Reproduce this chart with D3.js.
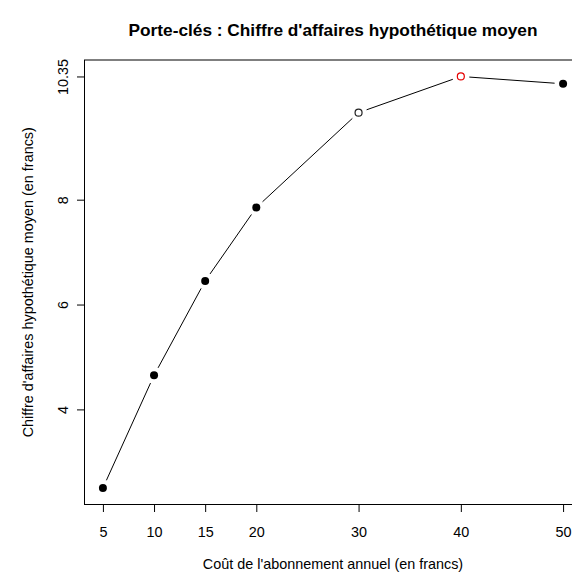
<!DOCTYPE html>
<html>
<head>
<meta charset="utf-8">
<script src="https://cdn.jsdelivr.net/npm/d3@7"></script>
<style>
  html, body { margin: 0; padding: 0; background: #fff; }
  svg text { font-family: "Liberation Sans", Arial, Helvetica, sans-serif; fill: #000; }
</style>
</head>
<body>
<svg id="chart" width="572" height="572"></svg>
<script>
// --- Data ---
const couts = [5, 10, 15, 20, 30, 40, 50];               // cost of annual subscription (francs)
const chiffre = [2.50, 4.65, 6.45, 7.85, 9.66, 10.35, 10.21]; // mean hypothetical revenue
const styles = ['plein', 'plein', 'plein', 'plein', 'vide', 'rouge', 'plein'];
const xTicks = [5, 10, 15, 20, 30, 40, 50];
const yTicks = [4, 6, 8, 10.35];

const titre = "Porte-clés : Chiffre d'affaires hypothétique moyen";
const xTitre = "Coût de l'abonnement annuel (en francs)";
const yTitre = "Chiffre d'affaires hypothétique moyen (en francs)";

// --- Layout (R base-graphics look; plot box runs past the right edge) ---
const box = { left: 84.5, right: 581.5, top: 60, bottom: 504.5 };
const gap = 8.5;        // type="b" gap around each point
const fontSize = 14.4;  // base text size
const fontFamily = '"Liberation Sans", Arial, Helvetica, sans-serif';

const svg = d3.select('#chart');

// R default: 4% padding on each side of the data range
function padded(ext) {
    const d = (ext[1] - ext[0]) * 0.04;
    return [ext[0] - d, ext[1] + d];
}

const x = d3.scaleLinear().domain(padded(d3.extent(couts))).range([box.left, box.right]);
const y = d3.scaleLinear().domain(padded(d3.extent(chiffre))).range([box.bottom, box.top]);

// Plot box
svg.append('rect')
    .attr('x', box.left).attr('y', box.top)
    .attr('width', box.right - box.left).attr('height', box.bottom - box.top)
    .attr('fill', 'none').attr('stroke', '#000').attr('stroke-width', 1);

// X axis
const xAxis = svg.append('g')
    .attr('transform', `translate(0, ${box.bottom})`)
    .call(d3.axisBottom(x).tickValues(xTicks).tickSize(7.5).tickPadding(14.5).tickFormat(d3.format('d')));
xAxis.select('.domain').remove();
xAxis.selectAll('text').attr('font-size', fontSize).style('font-family', fontFamily);

// Y axis (rotated labels like R)
const yAxis = svg.append('g')
    .attr('transform', `translate(${box.left}, 0)`)
    .call(d3.axisLeft(y).tickValues(yTicks).tickSize(7.5).tickFormat(d => String(d)));
yAxis.select('.domain').remove();
yAxis.selectAll('text')
    .attr('x', null).attr('dy', null)
    .attr('text-anchor', 'middle')
    .attr('font-size', fontSize)
    .style('font-family', fontFamily)
    .attr('transform', 'translate(-16.5, 0) rotate(-90)');

// Line segments with gaps around points (type = "b")
const pts = couts.map((c, i) => ({ px: x(c), py: y(chiffre[i]), style: styles[i] }));
const segs = d3.pairs(pts).map(([a, b]) => {
    const dx = b.px - a.px, dy = b.py - a.py;
    const len = Math.hypot(dx, dy);
    const ux = dx / len, uy = dy / len;
    return { x1: a.px + ux * gap, y1: a.py + uy * gap, x2: b.px - ux * gap, y2: b.py - uy * gap };
});
svg.append('g').selectAll('line')
    .data(segs)
    .join('line')
    .attr('x1', d => d.x1).attr('y1', d => d.y1)
    .attr('x2', d => d.x2).attr('y2', d => d.y2)
    .attr('stroke', '#000').attr('stroke-width', 1);

// Points
svg.append('g').selectAll('circle')
    .data(pts)
    .join('circle')
    .attr('cx', d => d.px).attr('cy', d => d.py)
    .attr('r', d => d.style === 'plein' ? 4 : 3.5)
    .attr('fill', d => d.style === 'plein' ? '#000' : '#fff')
    .attr('stroke', d => d.style === 'rouge' ? '#e60000' : (d.style === 'vide' ? '#222' : 'none'))
    .attr('stroke-width', 1.2);

// Titles
svg.append('text')
    .attr('x', (box.left + box.right) / 2).attr('y', 36)
    .attr('text-anchor', 'middle')
    .attr('font-size', fontSize * 1.2).attr('font-weight', 'bold')
    .text(titre);

svg.append('text')
    .attr('x', (box.left + box.right) / 2).attr('y', 568.5)
    .attr('text-anchor', 'middle')
    .attr('font-size', fontSize)
    .text(xTitre);

svg.append('text')
    .attr('transform', `translate(33, ${(box.top + box.bottom) / 2}) rotate(-90)`)
    .attr('text-anchor', 'middle')
    .attr('font-size', fontSize)
    .text(yTitre);
</script>
</body>
</html>
